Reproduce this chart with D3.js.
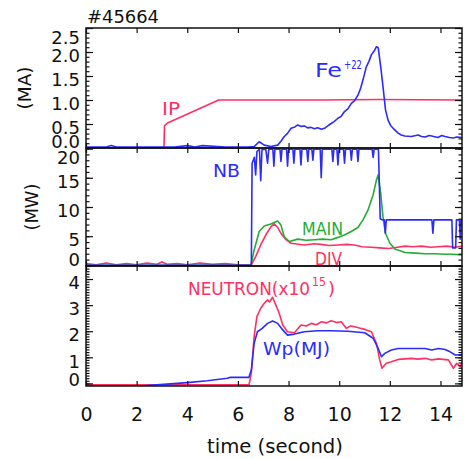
<!DOCTYPE html>
<html>
<head>
<meta charset="utf-8">
<script src="https://cdn.jsdelivr.net/npm/d3@7"></script>
<style>
  body { margin: 0; background: #fff; }
  text { font-family: "DejaVu Sans", sans-serif; }
</style>
</head>
<body>
<div class="chart"></div>
<script>
const WIDTH = 467;
const HEIGHT = 459;

// ---- data (time in seconds, value) ----
var shotLabel = '#45664';
var timeTicks = [0, 2, 4, 6, 8, 10, 12, 14];
var maTicks = [0, 0.5, 1.0, 1.5, 2.0, 2.5];
var mwTicks = [0, 5, 10, 15, 20];
var neutronTicks = [0, 1, 2, 3, 4];

var ip = [[0, 0], [3.08, 0], [3.1, 0.46], [3.22, 0.52], [5.24, 1.0], [9.3, 1.0], [11.6, 1.01], [14.85, 1.0]];

var fe22 = [[0, 0.02], [0.8, 0.02], [1.0, 0.05], [1.2, 0.02], [2.5, 0.02], [3.5, 0.02], [4.0, 0.05], [4.3, 0.02],
  [4.6, 0.05], [5.5, 0.02], [6.4, 0.02], [6.64, 0.03], [6.84, 0.13], [7.04, 0.06], [7.3, 0.03], [7.57, 0.06],
  [7.7, 0.14], [7.83, 0.24], [7.95, 0.3], [8.1, 0.41], [8.25, 0.44], [8.36, 0.48], [8.5, 0.45], [8.62, 0.46],
  [8.75, 0.42], [8.89, 0.43], [9.02, 0.4], [9.15, 0.42], [9.3, 0.39], [9.42, 0.41], [9.55, 0.46], [9.68, 0.51],
  [9.8, 0.55], [9.95, 0.62], [10.08, 0.66], [10.21, 0.76], [10.35, 0.82], [10.48, 0.93], [10.6, 0.98],
  [10.74, 1.1], [10.85, 1.25], [10.94, 1.42], [11.07, 1.69], [11.17, 1.8], [11.27, 1.94], [11.38, 2.02],
  [11.47, 2.11], [11.54, 2.09], [11.64, 1.69], [11.73, 1.28], [11.83, 0.79], [11.93, 0.58], [12.03, 0.47],
  [12.13, 0.41], [12.33, 0.31], [12.45, 0.27], [12.59, 0.25], [12.85, 0.24], [13.12, 0.27], [13.25, 0.24],
  [13.4, 0.23], [13.55, 0.26], [13.65, 0.25], [13.9, 0.22], [14.05, 0.26], [14.18, 0.24], [14.35, 0.22],
  [14.5, 0.21], [14.65, 0.23], [14.84, 0.22]];

var nb = [[0, 0], [6.5, 0], [6.53, 0], [6.56, 17.5], [6.65, 18.5], [6.7, 15.5], [6.75, 19.5], [6.85, 19.9],
  [6.9, 14.5], [6.95, 19.8], [7.1, 19.9], [7.17, 17.5], [7.22, 19.9], [7.38, 19.9], [7.42, 17], [7.46, 19.9],
  [7.66, 19.9], [7.7, 17.8], [7.74, 19.9], [7.92, 19.9], [7.96, 17], [8.0, 19.9], [8.17, 19.9], [8.21, 17.5],
  [8.25, 19.9], [8.45, 19.9], [8.49, 17.2], [8.53, 19.9], [8.72, 19.9], [8.76, 17.8], [8.8, 19.9], [8.92, 19.9],
  [8.96, 18], [9.0, 19.9], [9.25, 19.9], [9.29, 15], [9.33, 19.9], [9.71, 19.9], [9.75, 17.8], [9.79, 19.9],
  [9.91, 19.9], [9.95, 17.2], [9.99, 19.9], [10.17, 19.9], [10.21, 17.5], [10.25, 19.9], [10.44, 19.9],
  [10.48, 18], [10.52, 19.9], [10.7, 19.9], [10.74, 17.8], [10.78, 19.9], [11.3, 19.9], [11.34, 18.5],
  [11.38, 19.9], [11.55, 19.9], [11.62, 8], [11.7, 7.8], [11.78, 7.8], [11.82, 5.5], [11.86, 7.8],
  [13.66, 7.8], [13.7, 5.5], [13.74, 7.8], [14.45, 7.8], [14.48, 3.0], [14.6, 3.0], [14.63, 7.8],
  [14.75, 7.8], [14.78, 4.5], [14.82, 7.8], [14.85, 7.8]];

var mainP = [[0, 0], [6.51, 0], [6.64, 2.6], [6.84, 5.8], [7.04, 6.75], [7.3, 7.1], [7.57, 7.6], [7.7, 6.9],
  [7.83, 4.9], [8.03, 4.1], [8.36, 4.5], [8.7, 4.3], [9.02, 4.4], [9.35, 4.5], [9.68, 4.4], [9.95, 4.8],
  [10.2, 5.2], [10.48, 5.8], [10.74, 6.5], [10.94, 7.8], [11.14, 9.5], [11.34, 12.1], [11.47, 14.6],
  [11.54, 15.5], [11.64, 12.3], [11.73, 8.3], [11.83, 5.5], [12.0, 3.8], [12.2, 2.8], [12.6, 2.2],
  [13.0, 2.1], [13.4, 2.0], [13.8, 2.0], [14.2, 1.9], [14.5, 1.9], [14.85, 1.8]];

var divP = [[0, 0.3], [0.4, 0.1], [0.8, 0.4], [1.2, 0.1], [1.6, 0.3], [2.0, 0.1], [2.4, 0.4], [2.8, 0.2],
  [3.0, 0.6], [3.2, 0.2], [3.6, 0.3], [4.0, 0.1], [4.5, 0.4], [5.0, 0.2], [5.5, 0.3], [6.0, 0.1],
  [6.53, 0.1], [6.7, 1.5], [6.9, 3.5], [7.1, 5.2], [7.3, 6.6], [7.43, 7.1], [7.57, 6.5], [7.7, 5.5],
  [7.9, 4.4], [8.1, 3.8], [8.62, 3.5], [9.0, 3.7], [9.29, 3.6], [9.6, 3.4], [9.95, 3.5], [10.3, 3.6],
  [10.6, 3.5], [10.9, 3.2], [11.27, 3.1], [11.6, 3.0], [11.95, 2.9], [12.3, 3.1], [12.6, 3.3], [12.9, 3.2],
  [13.25, 3.3], [13.6, 3.1], [13.92, 3.2], [14.25, 3.3], [14.58, 3.1], [14.85, 3.3]];

var neutron = [[0, -0.05], [6.44, -0.05], [6.53, 0.39], [6.64, 1.79], [6.75, 2.56], [6.9, 2.88], [7.04, 3.07],
  [7.17, 3.2], [7.25, 3.12], [7.37, 3.3], [7.5, 3.0], [7.63, 2.69], [7.77, 2.24], [7.96, 1.98], [8.23, 1.94],
  [8.49, 2.24], [8.7, 2.2], [8.89, 2.3], [9.1, 2.25], [9.29, 2.36], [9.5, 2.32], [9.68, 2.4], [9.9, 2.33],
  [10.08, 2.36], [10.28, 2.11], [10.45, 2.2], [10.61, 2.17], [10.8, 2.12], [11.01, 2.07], [11.27, 1.98],
  [11.47, 1.54], [11.6, 0.9], [11.69, 0.58], [11.86, 0.77], [12.06, 0.83], [12.33, 0.92], [12.6, 0.94],
  [12.86, 0.96], [13.1, 0.93], [13.4, 0.96], [13.65, 0.9], [13.92, 0.94], [14.1, 0.92], [14.31, 0.9],
  [14.51, 0.58], [14.64, 0.77], [14.78, 0.64], [14.85, 0.8]];

var wp = [[0, -0.1], [2.14, -0.1], [2.67, -0.06], [3.33, -0.02], [4.0, 0.03], [4.79, 0.1], [5.58, 0.2],
  [5.7, 0.23], [6.43, 0.23], [6.53, 0.51], [6.64, 1.54], [6.77, 1.98], [6.96, 2.11], [7.17, 2.3],
  [7.37, 2.39], [7.57, 2.3], [7.77, 2.05], [7.96, 1.85], [8.23, 1.89], [8.62, 1.98], [9.15, 2.02],
  [9.68, 2.02], [10.34, 2.0], [11.01, 1.94], [11.34, 1.73], [11.54, 1.34], [11.67, 1.02], [11.8, 1.15],
  [12.06, 1.28], [12.33, 1.34], [13.4, 1.34], [13.65, 1.28], [13.92, 1.34], [14.18, 1.3], [14.38, 1.21],
  [14.58, 1.09], [14.85, 1.1]];

// ---- layout ----
const RED = '#ff2f62';
const BLUE = '#2b2bff';
const GREEN = '#25ac35';

var x = d3.scaleLinear().domain([0, 14.85]).range([86, 462]);

var panels = [
  {top: 28, bottom: 148, domain: [0, 2.5], ticks: maTicks, minor: d3.range(0, 2.501, 0.1), fmt: d3.format('.1f'),
    series: [[ip, RED], [fe22, BLUE]]},
  {top: 148, bottom: 266, domain: [-0.1, 20.1], ticks: mwTicks, minor: d3.range(0, 20.01, 1), fmt: d3.format('d'),
    series: [[divP, RED], [mainP, GREEN], [nb, BLUE]]},
  {top: 266, bottom: 386, domain: [-0.1, 4.5], ticks: neutronTicks, minor: d3.range(0, 4.501, 0.1), fmt: d3.format('d'),
    series: [[neutron, RED], [wp, BLUE]]}
];

var svg = d3.select('.chart').append('svg')
  .attr('width', WIDTH)
  .attr('height', HEIGHT);

function drawPanel(p, i) {
  var y = d3.scaleLinear().domain(p.domain).range([p.bottom, p.top]);
  var g = svg.append('g');

  g.append('clipPath').attr('id', 'clip' + i)
    .append('rect')
    .attr('x', x.range()[0]).attr('y', p.top)
    .attr('width', x.range()[1] - x.range()[0]).attr('height', p.bottom - p.top);

  var line = d3.line().x(function (d) { return x(d[0]); }).y(function (d) { return y(d[1]); });
  p.series.forEach(function (s) {
    g.append('path')
      .attr('clip-path', 'url(#clip' + i + ')')
      .attr('d', line(s[0]))
      .attr('fill', 'none')
      .attr('stroke', s[1])
      .attr('stroke-width', 1.6)
      .attr('stroke-linejoin', 'round');
  });

  // left axis, labels nudged to stay inside the panel
  var yAxisG = g.append('g').attr('transform', 'translate(' + x.range()[0] + ',0)')
    .call(d3.axisLeft(y).tickValues(p.ticks).tickSize(-7).tickPadding(6).tickFormat(p.fmt));
  yAxisG.selectAll('text').each(function (d) {
    var c = Math.max(p.top + 10, Math.min(p.bottom - 6, y(d) + 4));
    d3.select(this).attr('y', c - y(d));
  });
  g.append('g').attr('transform', 'translate(' + x.range()[0] + ',0)')
    .call(d3.axisLeft(y).tickValues(p.minor).tickSize(-3.5).tickFormat(''));

  g.append('g').attr('transform', 'translate(' + x.range()[1] + ',0)')
    .call(d3.axisRight(y).tickValues(p.ticks).tickSize(-7).tickFormat(''));
  g.append('g').attr('transform', 'translate(' + x.range()[1] + ',0)')
    .call(d3.axisRight(y).tickValues(p.minor).tickSize(-3.5).tickFormat(''));

  g.append('g').attr('transform', 'translate(0,' + p.top + ')')
    .call(d3.axisTop(x).tickValues(timeTicks).tickSize(-5).tickFormat(''));
  g.append('g').attr('class', 'xaxis').attr('transform', 'translate(0,' + p.bottom + ')')
    .call(d3.axisBottom(x).tickValues(timeTicks).tickSize(-5).tickPadding(22)
      .tickFormat(i === panels.length - 1 ? d3.format('d') : ''));

  g.append('rect')
    .attr('x', x.range()[0]).attr('y', p.top)
    .attr('width', x.range()[1] - x.range()[0]).attr('height', p.bottom - p.top)
    .attr('fill', 'none').attr('stroke', '#111').attr('stroke-width', 1.5);
}

panels.forEach(drawPanel);

svg.selectAll('.domain').remove();
svg.selectAll('.tick line').attr('stroke', '#111').attr('stroke-width', 1.2);
svg.selectAll('.tick text').attr('fill', '#111').attr('font-size', 18)
  .attr('font-family', '"DejaVu Sans", sans-serif');
svg.selectAll('.xaxis .tick text').attr('font-size', 19);

function label(txt, x0, y0, size, len, color, rot) {
  var t = svg.append('text')
    .attr('x', x0).attr('y', y0)
    .attr('font-size', size)
    .attr('fill', color)
    .text(txt);
  if (len) t.attr('textLength', len).attr('lengthAdjust', 'spacingAndGlyphs');
  if (rot) t.attr('text-anchor', 'middle').attr('transform', 'rotate(-90,' + x0 + ',' + y0 + ')')
    .attr('dy', '0.35em');
  return t;
}

label(shotLabel, 87, 23, 17, 72, '#111');
label('(MA)', 25, 88, 18, 43, '#111', true);
label('(MW)', 32, 207, 18, 47, '#111', true);
label('time (second)', 207, 453, 19, 136, '#111');

label('IP', 162, 115, 18, 18, RED);
label('Fe', 315, 77, 20, 27, BLUE);
label('+22', 344, 69, 13, 18, BLUE);
label('NB', 213, 177, 17, 27, BLUE);
label('MAIN', 302, 235, 18, 41, GREEN);
label('DIV', 315, 265, 18, 27, RED);
label('NEUTRON(x10', 188, 295, 18, 122, RED);
label('15', 312, 286, 12, 14, RED);
label(')', 328, 295, 18, 7, RED);
label('Wp(MJ)', 263, 355, 18, 67, BLUE);
</script>
</body>
</html>
